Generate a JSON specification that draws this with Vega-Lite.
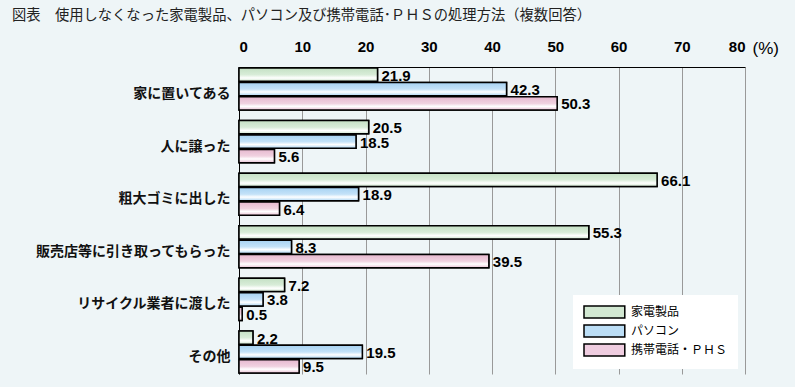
{
  "$schema": "https://vega.github.io/schema/vega-lite/v6.json",
  "autosize": {"type": "none"},
  "width": 506,
  "height": 307,
  "padding": {"left": 239, "top": 67, "right": 50, "bottom": 13},
  "background": "#eef5f7",
  "title": {
    "text": "図表　使用しなくなった家電製品、パソコン及び携帯電話･ＰＨＳの処理方法（複数回答）",
    "anchor": "start",
    "frame": "group",
    "dx": -227,
    "offset": 16,
    "font": "Noto Sans CJK JP",
    "fontSize": 14.3,
    "fontWeight": "normal",
    "color": "#222"
  },
  "config": {
    "view": {"stroke": null}
  },
  "data": {
    "values": [
      {"cat": "家に置いてある", "series": "家電製品", "value": 21.9},
      {"cat": "家に置いてある", "series": "パソコン", "value": 42.3},
      {"cat": "家に置いてある", "series": "携帯電話・ＰＨＳ", "value": 50.3},
      {"cat": "人に譲った", "series": "家電製品", "value": 20.5},
      {"cat": "人に譲った", "series": "パソコン", "value": 18.5},
      {"cat": "人に譲った", "series": "携帯電話・ＰＨＳ", "value": 5.6},
      {"cat": "粗大ゴミに出した", "series": "家電製品", "value": 66.1},
      {"cat": "粗大ゴミに出した", "series": "パソコン", "value": 18.9},
      {"cat": "粗大ゴミに出した", "series": "携帯電話・ＰＨＳ", "value": 6.4},
      {"cat": "販売店等に引き取ってもらった", "series": "家電製品", "value": 55.3},
      {"cat": "販売店等に引き取ってもらった", "series": "パソコン", "value": 8.3},
      {"cat": "販売店等に引き取ってもらった", "series": "携帯電話・ＰＨＳ", "value": 39.5},
      {"cat": "リサイクル業者に渡した", "series": "家電製品", "value": 7.2},
      {"cat": "リサイクル業者に渡した", "series": "パソコン", "value": 3.8},
      {"cat": "リサイクル業者に渡した", "series": "携帯電話・ＰＨＳ", "value": 0.5},
      {"cat": "その他", "series": "家電製品", "value": 2.2},
      {"cat": "その他", "series": "パソコン", "value": 19.5},
      {"cat": "その他", "series": "携帯電話・ＰＨＳ", "value": 9.5}
    ]
  },
  "encoding": {
    "y": {
      "field": "cat",
      "type": "nominal",
      "sort": null,
      "scale": {"paddingInner": 0.2, "paddingOuter": 0.02},
      "axis": {
        "title": null,
        "ticks": false,
        "domainColor": "black",
        "domainWidth": 1,
        "labelFont": "Noto Sans CJK JP",
        "labelFontSize": 14,
        "labelFontWeight": "bold",
        "labelColor": "#111",
        "labelPadding": 9,
        "labelLimit": 0,
        "labelOffset": 5
      }
    },
    "yOffset": {
      "field": "series",
      "type": "nominal",
      "scale": {"domain": ["家電製品", "パソコン", "携帯電話・ＰＨＳ"], "paddingInner": 0.08, "paddingOuter": 0}
    },
    "x": {
      "field": "value",
      "type": "quantitative",
      "scale": {"domain": [0, 80], "nice": false},
      "axis": {
        "orient": "top",
        "values": [0, 10, 20, 30, 40, 50, 60, 70, 80],
        "ticks": false,
        "grid": true,
        "gridColor": "#999999",
        "gridWidth": 1,
        "domainColor": "black",
        "labelFont": "Liberation Sans",
        "labelFontSize": 15,
        "labelFontWeight": "bold",
        "labelColor": "black",
        "labelPadding": 13,
        "title": "(%)",
        "titleFont": "Liberation Sans",
        "titleFontSize": 17,
        "titleFontWeight": "normal",
        "titleColor": "black",
        "titleAlign": "left",
        "titleAnchor": null,
        "titleBaseline": "alphabetic",
        "titleX": 513,
        "titleY": -14
      }
    }
  },
  "layer": [
    {
      "mark": {"type": "bar", "stroke": "black", "strokeWidth": 1.5},
      "encoding": {
        "fill": {
          "field": "series",
          "type": "nominal",
          "scale": {
            "domain": ["家電製品", "パソコン", "携帯電話・ＰＨＳ"],
            "range": ["#d2e8d2", "#bcdef6", "#efcde0"]
          },
          "legend": {
            "title": null,
            "orient": "none",
            "legendX": 334,
            "legendY": 228,
            "fillColor": "white",
            "padding": 10,
            "symbolType": "M-1,-1H5.8V1H-1Z",
            "symbolSize": 144,
            "symbolStrokeWidth": 1.5,
            "symbolStrokeColor": "black",
            "symbolOpacity": 1,
            "labelFont": "Noto Sans CJK JP",
            "labelFontSize": 12,
            "labelColor": "black",
            "labelOffset": 34,
            "rowPadding": 1,
            "labelLimit": 0,
            "labelExpr": "datum.label + '　　'",
            "encode": {
              "symbols": {
                "update": {
                  "stroke": {"value": "black"},
                  "strokeWidth": {"value": 1.5},
                  "fill": {"signal": "datum.value === '家電製品' ? {gradient: 'linear', x1: 0, y1: 0, x2: 0, y2: 1, stops: [{offset: 0, color: '#c4e0c4'}, {offset: 0.5, color: '#d8ecd8'}, {offset: 0.75, color: '#ffffff'}, {offset: 1, color: '#cde5cd'}]} : datum.value === 'パソコン' ? {gradient: 'linear', x1: 0, y1: 0, x2: 0, y2: 1, stops: [{offset: 0, color: '#a6d2f2'}, {offset: 0.5, color: '#c4e2f8'}, {offset: 0.72, color: '#ffffff'}, {offset: 1, color: '#a9d4f3'}]} : {gradient: 'linear', x1: 0, y1: 0, x2: 0, y2: 1, stops: [{offset: 0, color: '#e6b8cf'}, {offset: 0.5, color: '#f0d2e0'}, {offset: 0.72, color: '#ffffff'}, {offset: 1, color: '#e8bfd3'}]}"}
                }
              }
            }
          }
        }
      }
    },
    {
      "transform": [{"filter": "datum.series === '家電製品'"}],
      "mark": {"type": "bar", "stroke": "black", "strokeWidth": 1.5,
        "fill": {"gradient": "linear", "x1": 0, "y1": 0, "x2": 0, "y2": 1, "stops": [
          {"offset": 0, "color": "#c4e0c4"},
          {"offset": 0.5, "color": "#d8ecd8"},
          {"offset": 0.75, "color": "#ffffff"},
          {"offset": 1, "color": "#cde5cd"}
        ]}}
    },
    {
      "transform": [{"filter": "datum.series === 'パソコン'"}],
      "mark": {"type": "bar", "stroke": "black", "strokeWidth": 1.5,
        "fill": {"gradient": "linear", "x1": 0, "y1": 0, "x2": 0, "y2": 1, "stops": [
          {"offset": 0, "color": "#a6d2f2"},
          {"offset": 0.5, "color": "#c4e2f8"},
          {"offset": 0.72, "color": "#ffffff"},
          {"offset": 1, "color": "#a9d4f3"}
        ]}}
    },
    {
      "transform": [{"filter": "datum.series === '携帯電話・ＰＨＳ'"}],
      "mark": {"type": "bar", "stroke": "black", "strokeWidth": 1.5,
        "fill": {"gradient": "linear", "x1": 0, "y1": 0, "x2": 0, "y2": 1, "stops": [
          {"offset": 0, "color": "#e6b8cf"},
          {"offset": 0.5, "color": "#f0d2e0"},
          {"offset": 0.72, "color": "#ffffff"},
          {"offset": 1, "color": "#e8bfd3"}
        ]}}
    },
    {
      "mark": {
        "type": "text",
        "align": "left",
        "baseline": "middle",
        "dx": 4,
        "dy": 1,
        "font": "Liberation Sans",
        "fontSize": 15,
        "fontWeight": "bold",
        "color": "black"
      },
      "encoding": {
        "text": {"field": "value", "type": "quantitative", "format": ".1f"}
      }
    }
  ]
}
